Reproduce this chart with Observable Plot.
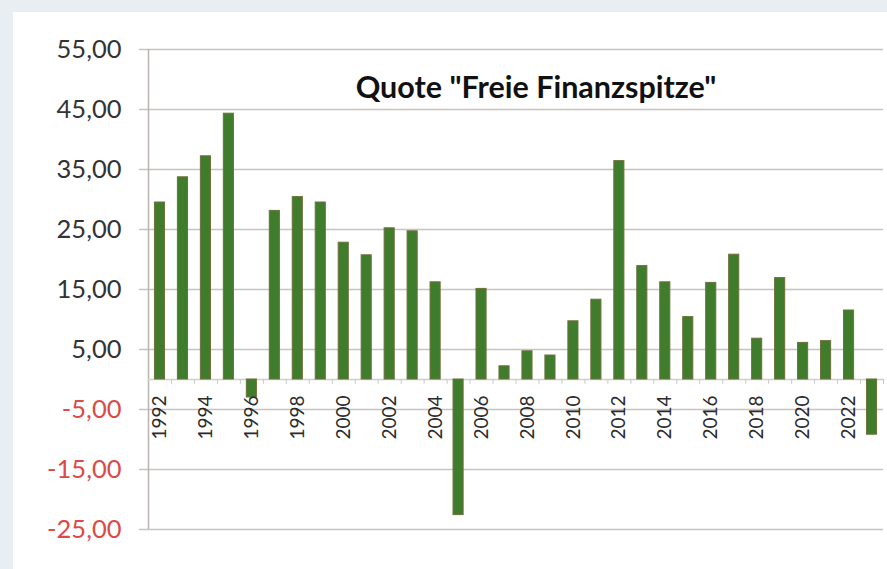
<!DOCTYPE html>
<html>
<head>
<meta charset="utf-8">
<script src="https://cdn.jsdelivr.net/npm/d3@7"></script>
<script src="https://cdn.jsdelivr.net/npm/@observablehq/plot@0.6"></script>
<style>
  html, body { margin: 0; padding: 0; background: #e9eef3; width: 887px; height: 569px; overflow: hidden; }
  #card { position: absolute; left: 13px; top: 12px; right: 0; bottom: 0; background: #ffffff; }
  #chart { position: absolute; left: 0; top: 0; }
  #chart svg { background: transparent; }
</style>
</head>
<body>
<div id="card"></div>
<div id="chart"></div>
<script>
const title = 'Quote "Freie Finanzspitze"';
const years = [1992,1993,1994,1995,1996,1997,1998,1999,2000,2001,2002,2003,2004,2005,2006,2007,
               2008,2009,2010,2011,2012,2013,2014,2015,2016,2017,2018,2019,2020,2021,2022,2023];
const values = [29.5,33.7,37.2,44.3,-3.0,28.1,30.4,29.5,22.8,20.7,25.2,24.7,16.2,-22.6,15.1,2.2,
                4.7,4.0,9.7,13.3,36.4,18.9,16.2,10.4,16.1,20.8,6.8,16.9,6.1,6.4,11.5,-9.2];
const yTicks = [-25,-15,-5,5,15,25,35,45,55];
const xTickYears = [1992,1994,1996,1998,2000,2002,2004,2006,2008,2010,2012,2014,2016,2018,2020,2022];

const data = years.map((y, i) => ({year: y, value: values[i]}));
const fmt = v => v.toFixed(2).replace(".", ",");

const W = 887, H = 569, mL = 148, mR = 4, mT = 49, mB = 40;
const step = (W - mL - mR) / years.length;

const chart = Plot.plot({
  width: W,
  height: H,
  marginLeft: mL,
  marginRight: mR,
  marginTop: mT,
  marginBottom: mB,
  style: {background: "transparent", fontFamily: "Lato, sans-serif"},
  x: {type: "band", domain: years, paddingInner: 0.56, paddingOuter: 0.28, axis: null},
  y: {domain: [-25, 55], axis: null},
  marks: [
    Plot.ruleY(yTicks, {stroke: "#cbc1bd", strokeWidth: 1.5, insetLeft: -9}),
    Plot.ruleX([years[0]], {dx: -step / 2, stroke: "#b9b4b2", strokeWidth: 1.5}),
    Plot.ruleY([0], {stroke: "#cfcfcf", strokeWidth: 1.5}),
    Plot.ruleX(years, {x: d => d, y1: 0, y2: -0.8, dx: step / 2, stroke: "#c8c8c8", strokeWidth: 1}),
    Plot.barY(data, {x: "year", y: "value", fill: "#3f7d2c", stroke: "#6f703a", strokeWidth: 1}),
    Plot.text(yTicks, {
      y: d => d, text: fmt, frameAnchor: "left", textAnchor: "end", dx: -27,
      fill: d => d < 0 ? "#dc4a45" : "#333333", fontSize: 25.5
    }),
    Plot.text(xTickYears, {
      x: d => d, y: () => 0, text: d => String(d), rotate: -90, textAnchor: "end",
      dy: 16, fill: "#2b2b2b", fontSize: 19
    }),
    Plot.text([title], {
      frameAnchor: "top", dx: 20, dy: 27, text: d => d,
      fontSize: 30.5, fontWeight: "bold", fill: "#111111"
    })
  ]
});
document.getElementById("chart").appendChild(chart);
</script>
</body>
</html>
